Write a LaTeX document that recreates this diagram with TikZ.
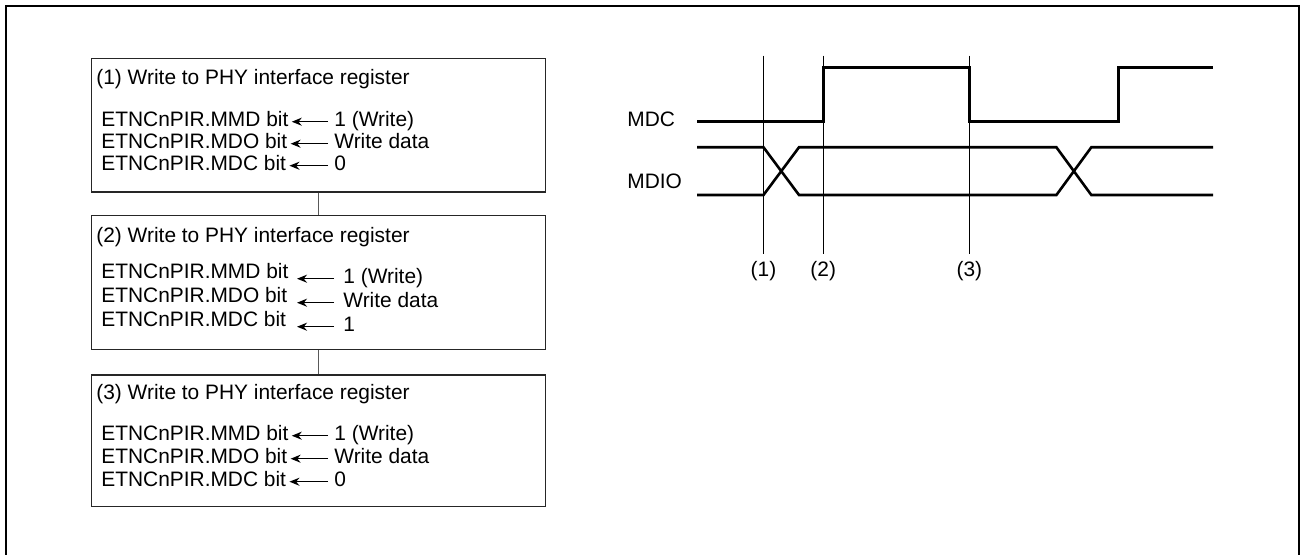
\documentclass[tikz,border=0pt]{standalone}
\usepackage{fontspec}
\setmainfont{Liberation Sans}
\usetikzlibrary{arrows.meta}
\begin{document}
\begin{tikzpicture}[>={Stealth[length=5pt,width=4pt]},x=0.5pt,y=-0.5pt,
  every node/.style={inner sep=0pt,font=\fontsize{10.45}{12}\selectfont},
  txt/.style={anchor=base west},
  regbox/.style={draw=black!85,line width=0.6pt,anchor=north west,minimum width=227.2pt},
  setarrow/.style={->,line width=0.75pt,shorten <=3pt,shorten >=1.5pt},
  wave/.style={line width=1.3pt},
  marker/.style={line width=0.45pt}]
\useasboundingbox (0,0) rectangle (1301,555);
\draw[line width=1.1pt] (6,575) -- (6,6) -- (1299,6) -- (1299,575);
% register boxes
\node[regbox,minimum height=66.9pt] (box1) at (90.5,57.7) {};
\node[regbox,minimum height=66.9pt] (box2) at (90.5,214.9) {};
\node[regbox,minimum height=65.8pt] (box3) at (90.5,374.5) {};
\draw[black!65,line width=0.6pt] (box1.south) -- (box2.north);
\draw[black!65,line width=0.6pt] (box2.south) -- (box3.north);
% (1)
\node[txt] (t1) at (96,85) {(1) Write to PHY interface register};
\node[txt] (m1) at (101,127) {ETNCnPIR.MMD bit};
\node[txt] (d1) at (101,149) {ETNCnPIR.MDO bit};
\node[txt] (c1) at (101,171) {ETNCnPIR.MDC bit};
\node[txt] (mv1) at (334,127) {1 (Write)};
\node[txt] (dv1) at (334,149) {Write data};
\node[txt] (cv1) at (334,171) {0};
\draw[setarrow] (mv1.mid west) -- (m1.mid east);
\draw[setarrow] (dv1.mid west) -- (d1.mid east);
\draw[setarrow] (cv1.mid west) -- (c1.mid east);
% (2)
\coordinate (h2) at (297,0);
\node[txt] (t2) at (96,243) {(2) Write to PHY interface register};
\node[txt] (m2) at (101,279) {ETNCnPIR.MMD bit};
\node[txt] (d2) at (101,303) {ETNCnPIR.MDO bit};
\node[txt] (c2) at (101,327) {ETNCnPIR.MDC bit};
\node[txt] (mv2) at (343,284) {1 (Write)};
\node[txt] (dv2) at (343,308) {Write data};
\node[txt] (cv2) at (343,332) {1};
\draw[setarrow,shorten <=4.5pt,shorten >=0pt] (mv2.mid west) -- (mv2.mid west -| h2);
\draw[setarrow,shorten <=4.5pt,shorten >=0pt] (dv2.mid west) -- (dv2.mid west -| h2);
\draw[setarrow,shorten <=4.5pt,shorten >=0pt] (cv2.mid west) -- (cv2.mid west -| h2);
% (3)
\node[txt] (t3) at (96,400) {(3) Write to PHY interface register};
\node[txt] (m3) at (101,441) {ETNCnPIR.MMD bit};
\node[txt] (d3) at (101,464) {ETNCnPIR.MDO bit};
\node[txt] (c3) at (101,487) {ETNCnPIR.MDC bit};
\node[txt] (mv3) at (334,441) {1 (Write)};
\node[txt] (dv3) at (334,464) {Write data};
\node[txt] (cv3) at (334,487) {0};
\draw[setarrow] (mv3.mid west) -- (m3.mid east);
\draw[setarrow] (dv3.mid west) -- (d3.mid east);
\draw[setarrow] (cv3.mid west) -- (c3.mid east);
% timing
\node[txt] (mdc) at (627,127) {MDC};
\node[txt] (mdio) at (627,189) {MDIO};
\draw[wave] (697,121.4) -- (823.2,121.4) -- (823.2,67.3) -- (969.3,67.3) -- (969.3,121.4) -- (1118.7,121.4) -- (1118.7,67.3) -- (1213,67.3);
\draw[wave] (697,147.3) -- (763.5,147.3) -- (799,195) -- (1056.4,195) -- (1091.3,147.3) -- (1213,147.3);
\draw[wave] (697,195) -- (763.5,195) -- (799,147.3) -- (1056.4,147.3) -- (1091.3,195) -- (1213,195);
\draw[marker] (763.5,55.6) -- (763.5,253.8);
\draw[marker] (823.2,55.6) -- (823.2,253.8);
\draw[marker] (969.3,55.6) -- (969.3,253.8);
\node[anchor=base] (k1) at (763.5,277) {(1)};
\node[anchor=base] (k2) at (823.2,277) {(2)};
\node[anchor=base] (k3) at (969.3,277) {(3)};
\end{tikzpicture}
\end{document}
